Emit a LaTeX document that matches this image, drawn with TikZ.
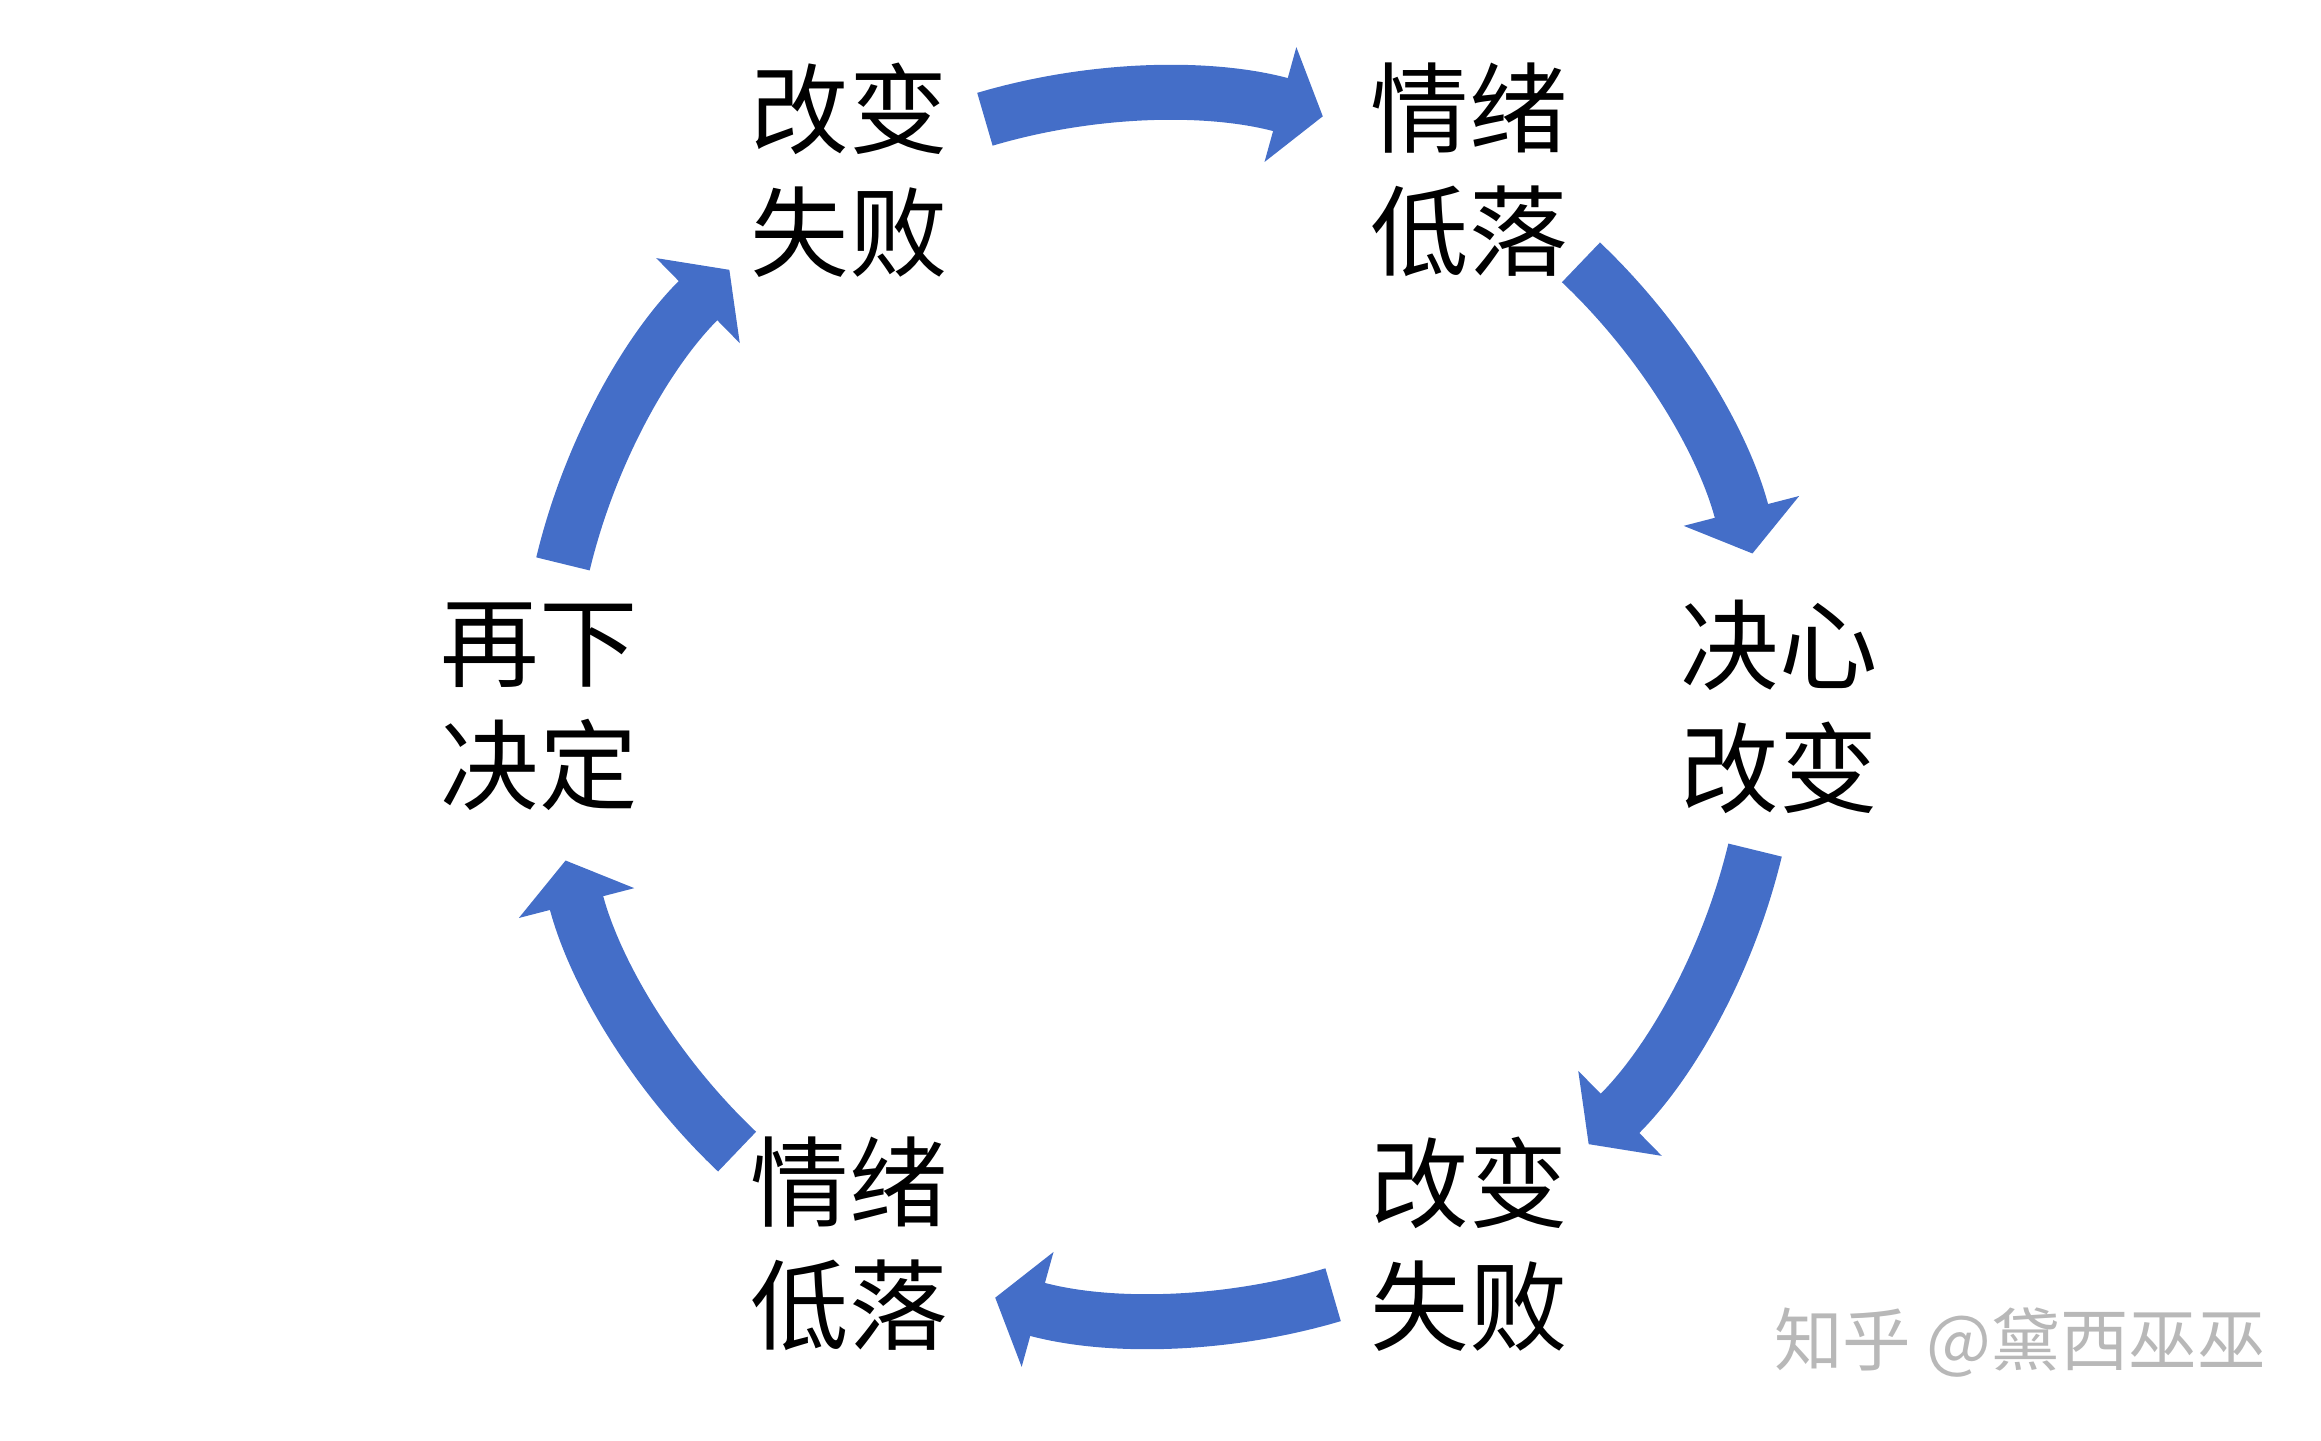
\documentclass[tikz,border=0pt]{standalone}
\usepackage{fontspec}
\setmainfont{Noto Sans CJK SC}
\usepackage{tikz}
\usepackage{xcolor}
\usetikzlibrary{arrows.meta,calc}

\definecolor{cycleblue}{RGB}{68,110,200}

\tikzset{
  stage/.style={align=center, inner sep=0pt, font=\fontsize{28}{35}\selectfont},
  flow/.style={draw=cycleblue, line width=0.55cm, -{Triangle[length=0.44cm,width=1.17cm]}},
  wm/.style={text=black!28, inner sep=0pt, font=\fontsize{19.5}{22}\selectfont}
}

\begin{document}
\begin{tikzpicture}
\useasboundingbox (0,0) rectangle (23.21,14.40);
\coordinate (c) at (11.59,7.33);

% the six stages
\foreach \ang/\nm/\txt in {120/failA/{改变\\失败}, 60/lowA/{情绪\\低落}, 0/decide/{决心\\改变},
    -60/failB/{改变\\失败}, -120/lowB/{情绪\\低落}, 180/redo/{再下\\决定}}
	\node[stage] (\nm) at ($(c)+(\ang:6.2)$) {\txt};

% curved arrows between the stages, clockwise
\foreach \ang [count=\i] in {90,30,-30,-90,-150,150}{
	\coordinate (t\i) at ($(c)+(\ang+16.5:6.13)$);
	\draw[flow] (t\i) arc[start angle=\ang+16.5, end angle=\ang-15.5, radius=6.13];
}

\node[wm] (zhihu) at (20.2,0.97) {知乎 @黛西巫巫};
\end{tikzpicture}
\end{document}
